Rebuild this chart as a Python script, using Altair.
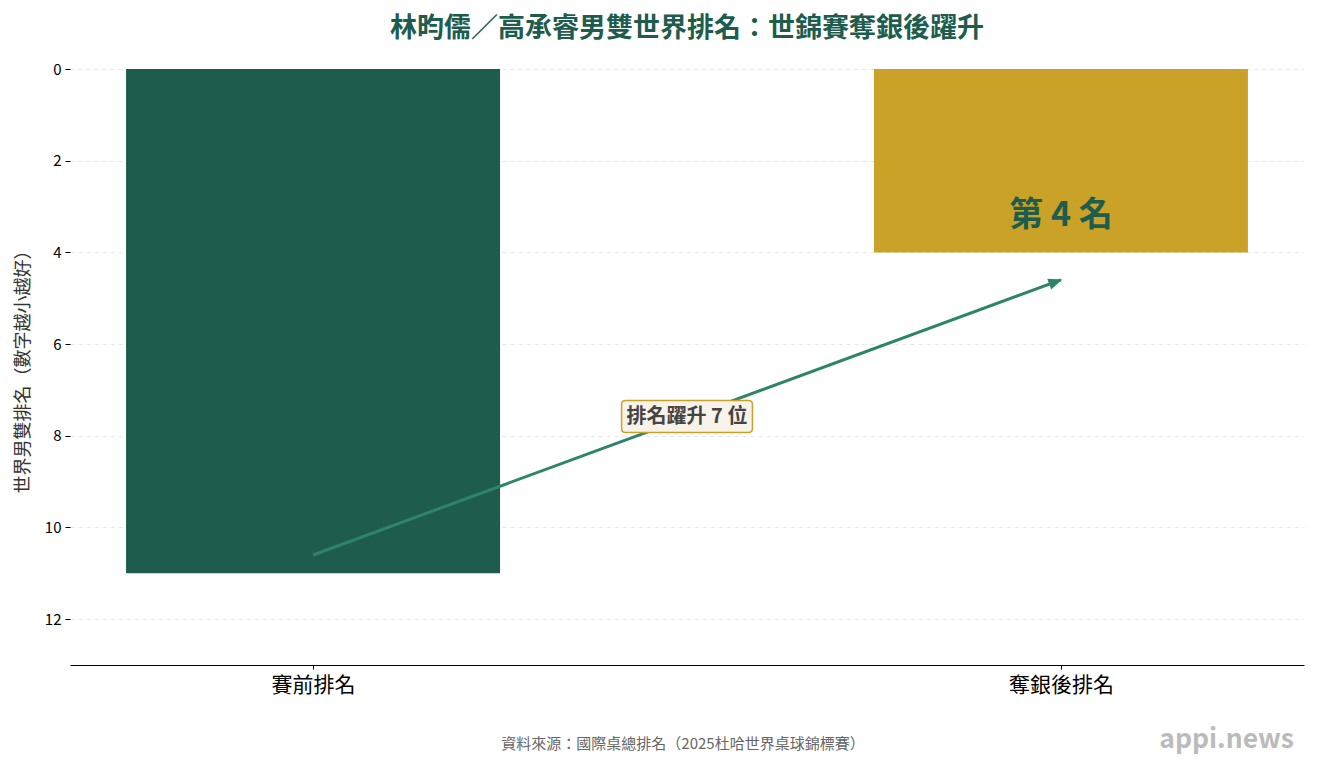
import altair as alt
import pandas as pd

# ---- data ----
categories = ["賽前排名", "奪銀後排名"]
ranks = [11, 4]
bar_colors = ["#1e5c4e", "#c9a227"]
arrow_x = [0, 1]
arrow_y = [10.6, 4.6]
jump_label = "排名躍升 7 位"
jump_pos = [0.5, 7.58]
rank_label = "第 4 名"
rank_label_pos = [1, 3.2]
y_ticks = [0, 2, 4, 6, 8, 10, 12]

title_text = "林昀儒／高承睿男雙世界排名：世錦賽奪銀後躍升"
y_title = "世界男雙排名（數字越小越好）"
source_text = "資料來源：國際桌總排名（2025杜哈世界桌球錦標賽）"
watermark = "appi.news"

FONT = "Noto Sans CJK TC"
DARK = "#1e5c4e"
GOLD = "#c9a227"
ARROW = "#2e8468"

bars_df = pd.DataFrame({"idx": list(range(len(categories))), "cat": categories,
                        "rank": ranks, "color": bar_colors})
arrow_df = pd.DataFrame({"x": arrow_x, "y": arrow_y})
head_df = pd.DataFrame({"x": [arrow_x[-1]], "y": [arrow_y[-1]]})
jump_df = pd.DataFrame({"x": [jump_pos[0]], "y": [jump_pos[1]], "t": [jump_label]})
rank_df = pd.DataFrame({"x": [rank_label_pos[0]], "y": [rank_label_pos[1]], "t": [rank_label]})

label_expr = " : ".join(
    [f"datum.value == {i} ? '{c}'" for i, c in enumerate(categories)] + ["''"]
)

x_scale = alt.Scale(domain=[-0.325, 1.325], nice=False, zero=False, padding=0)
y_scale = alt.Scale(domain=[0, 13], reverse=True, nice=False, zero=False, padding=0)

x_axis = alt.Axis(values=list(range(len(categories))), labelExpr=label_expr, title=None,
                  grid=False, domainColor="#000", domainWidth=1, tickColor="#000",
                  tickSize=4, labelFont=FONT, labelFontSize=21, labelColor="#000",
                  labelPadding=5)
y_axis = alt.Axis(values=y_ticks, title=y_title, grid=True, gridDash=[4, 4],
                  gridColor="#e6e6e6", domain=False, tickColor="#000", tickSize=5,
                  labelFont=FONT, labelFontSize=15, labelColor="#000", labelPadding=4,
                  titleFont=FONT, titleFontSize=18, titleFontWeight="normal",
                  titleColor="#333", titlePadding=12)

bars = alt.Chart(bars_df).mark_bar(size=374).encode(
    x=alt.X("idx:Q", scale=x_scale, axis=x_axis),
    y=alt.Y("rank:Q", scale=y_scale, axis=y_axis),
    color=alt.Color("color:N", scale=None, legend=None),
)

arrow_line = alt.Chart(arrow_df).mark_line(color=ARROW, strokeWidth=3, strokeCap="butt").encode(
    x="x:Q", y="y:Q"
)

arrow_head = alt.Chart(head_df).mark_point(
    shape="M0,0L-1,2.4L1,2.4Z", size=100, filled=True, fill=ARROW, stroke=ARROW,
    strokeWidth=1, opacity=1, angle=69.8
).encode(x="x:Q", y="y:Q")

box_path = ("M-3.84,-1 L3.84,-1 Q4.09,-1 4.09,-0.75 L4.09,0.75 Q4.09,1 3.84,1 "
            "L-3.84,1 Q-4.09,1 -4.09,0.75 L-4.09,-0.75 Q-4.09,-1 -3.84,-1 Z")
jump_box = alt.Chart(jump_df).mark_point(
    shape=box_path, size=1024, filled=True, fill="#f7f3ea", stroke=GOLD,
    strokeWidth=1.5, opacity=1
).encode(x="x:Q", y="y:Q")

jump_text = alt.Chart(jump_df).mark_text(
    font=FONT, fontSize=20, fontWeight="bold", color="#444444", baseline="middle",
    align="center"
).encode(x="x:Q", y="y:Q", text="t:N")

rank_text = alt.Chart(rank_df).mark_text(
    font=FONT, fontSize=34, fontWeight="bold", color=DARK, baseline="middle",
    align="center"
).encode(x="x:Q", y="y:Q", text="t:N")

blank = alt.Data(values=[{}])
source = alt.Chart(blank).mark_text(
    text=source_text, font=FONT, fontSize=15, color="#666666", align="center",
    baseline="middle"
).encode(x=alt.value(613), y=alt.value(675))

wm = alt.Chart(blank).mark_text(
    text=watermark, font=FONT, fontSize=26.5, fontWeight="bold", color="#bbbbbb",
    align="right", baseline="middle"
).encode(x=alt.value(1224), y=alt.value(671))

chart = alt.layer(bars, arrow_line, arrow_head, jump_box, jump_text, rank_text, source, wm).properties(
    width=1234,
    height=596,
    padding={"left": 62, "top": 61, "right": 6, "bottom": 90},
    autosize=alt.AutoSizeParams(type="none"),
    background="white",
    title=alt.TitleParams(title_text, font=FONT, fontSize=27, fontWeight="bold",
                          color=DARK, anchor="middle", offset=19),
).configure_view(stroke=None)

chart.save("out.html", embed_options={"renderer": "svg", "actions": False})
